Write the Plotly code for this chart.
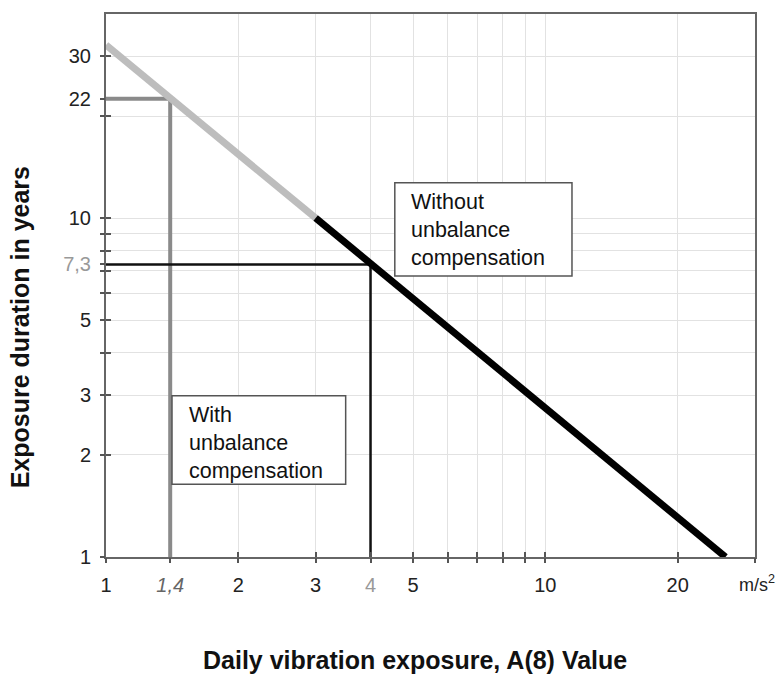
import math
import plotly.graph_objects as go

# ---- data ----
grey_line_x = [1, 3]
grey_line_y = [32.4, 10]
black_line_x = [3, 25.7]
black_line_y = [10, 1]

with_comp_x = 1.4
with_comp_y = 22.5
without_comp_x = 4
without_comp_y = 7.3

x_grid_vals = [2, 3, 4, 5, 6, 7, 8, 9, 10, 20]
y_grid_vals = [2, 3, 4, 5, 6, 7, 8, 9, 10, 20, 30]

x_tick_vals = [1, 1.4, 2, 3, 4, 5, 10, 20]
x_tick_text = ["1", "<i><span style='color:#666'>1,4</span></i>", "2", "3",
               "<span style='color:#999'>4</span>", "5", "10", "20"]
x_minor_vals = [6, 7, 8, 9, 30]
y_tick_vals = [1, 2, 3, 5, 7.3, 10, 22.5, 30]
y_tick_text = ["1", "2", "3", "5", "<span style='color:#999'>7,3</span>", "10", "22", "30"]
y_minor_vals = [4, 6, 7, 8, 9, 20]

x_range = [1, 30]
y_range = [1, 40]

FONT = "Arial, Liberation Sans, sans-serif"

fig = go.Figure()

# reference lines
fig.add_trace(go.Scatter(x=[x_range[0], with_comp_x, with_comp_x],
                         y=[with_comp_y, with_comp_y, y_range[0]],
                         mode="lines", line=dict(color="#8a8a8a", width=4),
                         hoverinfo="skip", showlegend=False))
fig.add_trace(go.Scatter(x=[x_range[0], without_comp_x, without_comp_x],
                         y=[without_comp_y, without_comp_y, y_range[0]],
                         mode="lines", line=dict(color="#111111", width=2.5),
                         hoverinfo="skip", showlegend=False))
# exposure curve
fig.add_trace(go.Scatter(x=grey_line_x, y=grey_line_y, mode="lines",
                         line=dict(color="#bdbdbd", width=7),
                         hoverinfo="skip", showlegend=False))
fig.add_trace(go.Scatter(x=black_line_x, y=black_line_y, mode="lines",
                         line=dict(color="#000000", width=7),
                         hoverinfo="skip", showlegend=False))
# invisible trace for overlay axes
fig.add_trace(go.Scatter(x=[x_range[0]], y=[y_range[0]], xaxis="x2", yaxis="y2",
                         mode="markers", marker=dict(opacity=0),
                         hoverinfo="skip", showlegend=False))

lx = [math.log10(v) for v in x_range]
ly = [math.log10(v) for v in y_range]

tick_style = dict(ticks="outside", ticklen=5, tickwidth=1.5, tickcolor="#555")

fig.update_layout(
    width=782, height=675,
    margin=dict(l=106, r=27, t=14, b=118),
    paper_bgcolor="white", plot_bgcolor="white",
    font=dict(family=FONT, size=20, color="#222"),
    xaxis=dict(type="log", range=lx, tickvals=x_grid_vals, showticklabels=False,
               ticks="inside", ticklen=5, tickwidth=1.5, tickcolor="#555",
               showgrid=True, gridcolor="#e2e2e2", gridwidth=1,
               showline=True, linecolor="#666", linewidth=2, mirror=True,
               zeroline=False),
    yaxis=dict(type="log", range=ly, tickvals=y_grid_vals, showticklabels=False,
               ticks="inside", ticklen=5, tickwidth=1.5, tickcolor="#555",
               showgrid=True, gridcolor="#e2e2e2", gridwidth=1,
               showline=True, linecolor="#666", linewidth=2, mirror=True,
               zeroline=False),
    xaxis2=dict(type="log", range=lx, overlaying="x", anchor="y2", side="bottom",
                tickvals=x_tick_vals, ticktext=x_tick_text, **tick_style,
                minor=dict(tickvals=x_minor_vals, showgrid=False, **tick_style),
                showgrid=False, showline=False, zeroline=False,
                tickfont=dict(size=20, color="#222"), ticklabelstandoff=5),
    yaxis2=dict(type="log", range=ly, overlaying="y", anchor="x2", side="left",
                tickvals=y_tick_vals, ticktext=y_tick_text, **tick_style,
                minor=dict(tickvals=y_minor_vals, showgrid=False, **tick_style),
                showgrid=False, showline=False, zeroline=False,
                tickfont=dict(size=20, color="#222"), ticklabelstandoff=5),
    shapes=[
        dict(type="rect", xref="paper", yref="paper",
             x0=0.445, x1=0.718, y0=0.5175, y1=0.689,
             line=dict(color="#555", width=1.5), fillcolor="white", layer="above"),
        dict(type="rect", xref="paper", yref="paper",
             x0=0.1017, x1=0.3693, y0=0.134, y1=0.297,
             line=dict(color="#555", width=1.5), fillcolor="white", layer="above"),
    ],
    annotations=[
        dict(xref="paper", yref="paper", x=0.467, y=0.68, xanchor="left", yanchor="top",
             text="Without<br>unbalance<br>compensation", align="left", showarrow=False,
             font=dict(family=FONT, size=21.5, color="#111")),
        dict(xref="paper", yref="paper", x=0.1248, y=0.2876, xanchor="left", yanchor="top",
             text="With<br>unbalance<br>compensation", align="left", showarrow=False,
             font=dict(family=FONT, size=21.5, color="#111")),
        dict(xref="paper", yref="paper", x=0.972, y=-0.048, xanchor="left", yanchor="middle",
             text="m/s<sup>2</sup>", showarrow=False,
             font=dict(family=FONT, size=18, color="#222")),
        dict(xref="paper", yref="paper", x=0.476, y=-0.19, xanchor="center", yanchor="middle",
             text="<b>Daily vibration exposure, A(8) Value</b>", showarrow=False,
             font=dict(family=FONT, size=25, color="#111")),
        dict(xref="paper", yref="paper", x=-0.132, y=0.4236, xanchor="center", yanchor="middle",
             text="<b>Exposure duration in years</b>", textangle=-90, showarrow=False,
             font=dict(family=FONT, size=25, color="#111")),
    ],
)

fig.write_html("out.html", post_script="document.body.style.margin='0';",
               config={"displayModeBar": False})
